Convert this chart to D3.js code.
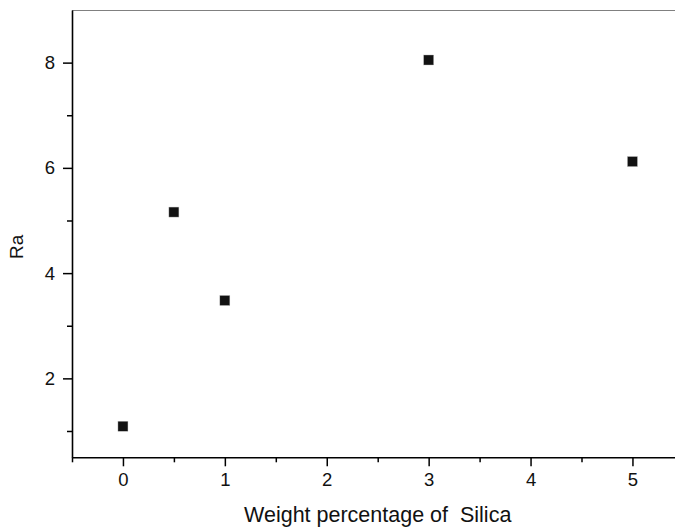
<!DOCTYPE html>
<html>
<head>
<meta charset="utf-8">
<script src="https://cdn.jsdelivr.net/npm/d3@7"></script>
<style>
  html, body { margin: 0; padding: 0; background: #fff; }
  svg { display: block; font-family: "Liberation Sans", Arial, Helvetica, sans-serif; }
</style>
</head>
<body>
<svg id="chart" width="675" height="527"></svg>
<script>
// Data
const silica = [0, 0.5, 1, 3, 5];          // weight percentage of silica
const ra = [1.09, 5.16, 3.48, 8.05, 6.12];  // Ra values
const xTicks = [0, 1, 2, 3, 4, 5];
const xMinorTicks = [-0.5, 0.5, 1.5, 2.5, 3.5, 4.5];
const yTicks = [2, 4, 6, 8];
const yMinorTicks = [1, 3, 5, 7];
const xTitle = "Weight percentage of \u00a0Silica";
const yTitle = "Ra";

(function () {
const svg = d3.select("#chart");
const plotLeft = 72, plotTop = 10, plotBottom = 457.3;
const pxPerX = 101.9;

const x = d3.scaleLinear().domain([-0.5, 5.5]).range([plotLeft, plotLeft + 6 * pxPerX]);
const y = d3.scaleLinear().domain([0.5, 9]).range([plotBottom, plotTop]);

// top frame line (gray)
svg.append("line")
  .attr("x1", plotLeft).attr("x2", 675)
  .attr("y1", plotTop + 0.5).attr("y2", plotTop + 0.5)
  .attr("stroke", "#808080").attr("stroke-width", 1.2);

// X axis
const gx = svg.append("g").attr("transform", `translate(0,${plotBottom})`);
gx.call(d3.axisBottom(x).tickValues(xMinorTicks).tickSize(5).tickFormat(""))
  .call(g => g.select(".domain").remove());
gx.append("g").call(d3.axisBottom(x).tickValues(xTicks).tickSize(9).tickSizeOuter(0).tickPadding(7).tickFormat(d3.format("d")));
gx.selectAll("line").attr("stroke", "#000").attr("stroke-width", 1.5);
gx.selectAll(".domain").attr("stroke", "#000").attr("stroke-width", 1.6);
gx.selectAll("text").attr("font-size", 18.5).attr("fill", "#111");

// Y axis
const gy = svg.append("g").attr("transform", `translate(${plotLeft},0)`);
gy.call(d3.axisLeft(y).tickValues(yMinorTicks).tickSize(5).tickFormat(""))
  .call(g => g.select(".domain").remove());
gy.append("g").call(d3.axisLeft(y).tickValues(yTicks).tickSize(9).tickSizeOuter(0).tickPadding(8).tickFormat(d3.format("d")));
gy.selectAll("line").attr("stroke", "#000").attr("stroke-width", 1.5);
gy.selectAll(".domain").attr("stroke", "#000").attr("stroke-width", 1.6);
gy.selectAll("text").attr("font-size", 18.5).attr("fill", "#111");

// Axis titles
svg.append("text")
  .attr("x", x(2.5)).attr("y", 522)
  .attr("text-anchor", "middle")
  .attr("font-size", 21.5).attr("fill", "#111")
  .text(xTitle);

svg.append("text")
  .attr("transform", `translate(23,${y(4.5)}) rotate(-90)`)
  .attr("text-anchor", "middle")
  .attr("font-size", 19).attr("fill", "#111")
  .text(yTitle);

// Points
const size = 10;
svg.append("g").selectAll("rect")
  .data(silica.map((s, i) => ({ s, r: ra[i] })))
  .join("rect")
  .attr("x", d => x(d.s) - size / 2)
  .attr("y", d => y(d.r) - size / 2)
  .attr("width", size).attr("height", size)
  .attr("fill", "#121212")
  .attr("stroke", "#bbb").attr("stroke-width", 0.4);
})();
</script>
</body>
</html>
